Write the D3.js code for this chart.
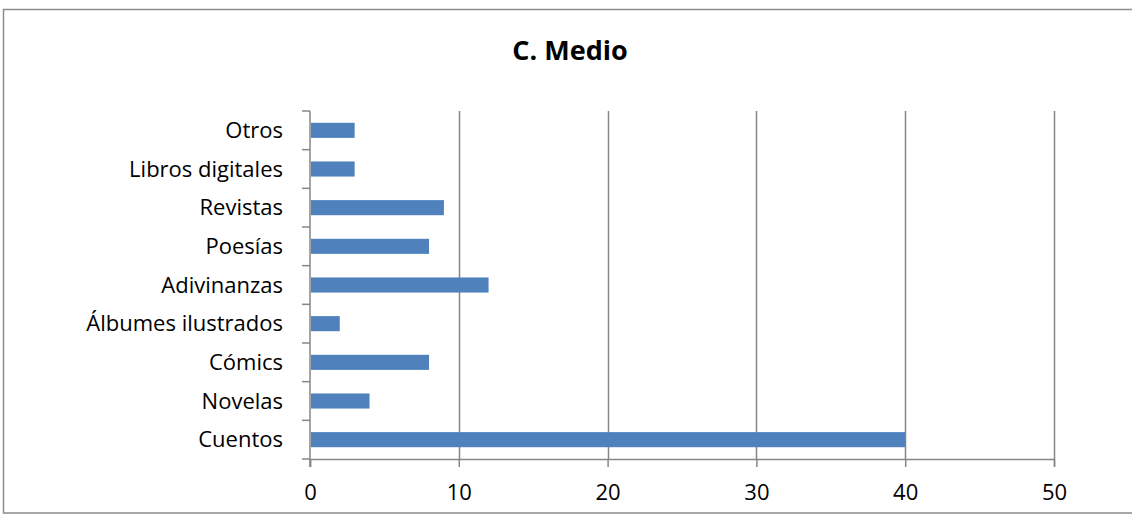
<!DOCTYPE html>
<html>
<head>
<meta charset="utf-8">
<script src="https://d3js.org/d3.v7.min.js"></script>
<style>
  body { margin: 0; background: #fff; }
  svg text { font-family: "Open Sans", "Noto Sans", sans-serif; fill: #000; }
</style>
</head>
<body>
<svg width="1132" height="514" id="chart"></svg>
<script>

var categories = ["Otros", "Libros digitales", "Revistas", "Poesías", "Adivinanzas",
                  "Álbumes ilustrados", "Cómics", "Novelas", "Cuentos"];
var values = [3, 3, 9, 8, 12, 2, 8, 4, 40];
var xTicks = [0, 10, 20, 30, 40, 50];
var title = "C. Medio";

var svg = d3.select('#chart'),
    width = +svg.attr("width"),
    height = +svg.attr("height");

var plotLeft = 310, plotRight = 1054, plotTop = 111, plotBottom = 459;
var gridColor = "#868686";

// outer border
svg.append("rect")
    .attr("x", 3.5).attr("y", 9.5)
    .attr("width", 1140).attr("height", 503.5)
    .style("fill", "none").style("stroke", "#8c8c8c").style("stroke-width", 1.5);

svg.append("text")
    .attr("x", 570).attr("y", 60)
    .attr("text-anchor", "middle")
    .style("font-size", "27px").style("font-weight", "bold")
    .text(title);

var x = d3.scaleLinear().domain([0, 50]).range([plotLeft, plotRight]);
var y = d3.scaleBand().domain(categories).range([plotTop, plotBottom]).paddingInner(0.61).paddingOuter(0.305);
var yb = d3.scaleBand().domain(categories).range([plotTop, plotBottom]);

// vertical gridlines
svg.append("g").selectAll("line")
    .data(xTicks.slice(1))
    .enter().append("line")
      .attr("x1", function(d){ return Math.round(x(d)) + 0.5; })
      .attr("x2", function(d){ return Math.round(x(d)) + 0.5; })
      .attr("y1", plotTop).attr("y2", plotBottom)
      .style("stroke", gridColor).style("stroke-width", 1.5);

// bars
svg.append("g").selectAll("rect")
    .data(values)
    .enter().append("rect")
      .attr("x", x(0) + 1)
      .attr("y", function(d, i){ return y(categories[i]); })
      .attr("width", function(d){ return x(d) - x(0) - 1; })
      .attr("height", y.bandwidth())
      .style("fill", "#4f81bd");

// x axis
var xAxis = svg.append("g")
    .attr("transform", "translate(0," + plotBottom + ")")
    .call(d3.axisBottom(x).tickValues(xTicks).tickSize(8).tickPadding(17));
xAxis.select(".domain").style("stroke", gridColor).style("stroke-width", 1.5);
xAxis.selectAll(".tick line").style("stroke", gridColor).style("stroke-width", 1.5);
xAxis.selectAll("text").style("font-size", "22px").style("font-family", "'Open Sans', sans-serif");

// y axis: ticks on band boundaries
var yAxis = svg.append("g").attr("transform", "translate(" + plotLeft + ",0)");
yAxis.append("line")
    .attr("x1", 0).attr("x2", 0).attr("y1", plotTop).attr("y2", plotBottom + 8)
    .style("stroke", gridColor).style("stroke-width", 1.5);
var bounds = categories.map(function(c){ return yb(c); }).concat([plotBottom]);
yAxis.selectAll(".btick")
    .data(bounds)
    .enter().append("line")
      .attr("class", "btick")
      .attr("x1", -8).attr("x2", 0)
      .attr("y1", function(d){ return d; }).attr("y2", function(d){ return d; })
      .style("stroke", gridColor).style("stroke-width", 1.5);
yAxis.selectAll(".ylab")
    .data(categories)
    .enter().append("text")
      .attr("class", "ylab")
      .attr("x", -27)
      .attr("y", function(d){ return yb(d) + yb.bandwidth() / 2; })
      .attr("dy", "0.35em")
      .attr("text-anchor", "end")
      .style("font-size", "22px")
      .text(function(d){ return d; });

</script>
</body>
</html>
